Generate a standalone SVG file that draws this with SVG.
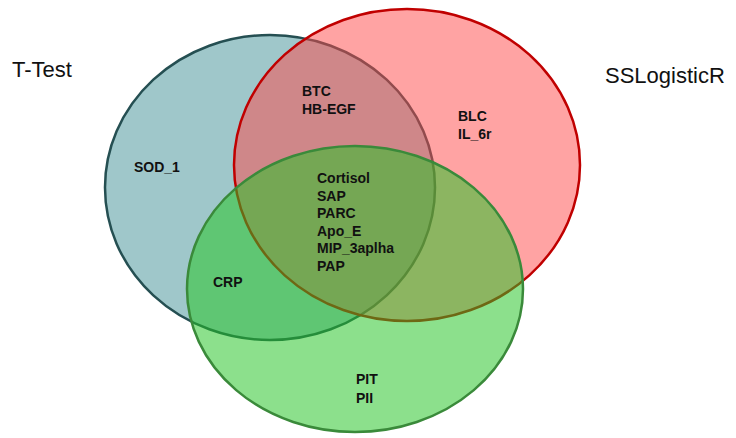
<svg xmlns="http://www.w3.org/2000/svg" width="736" height="438" viewBox="0 0 736 438">
<style>
.set{stroke-width:2.5}
.lbl{font-family:"Liberation Sans",Arial,sans-serif;font-weight:bold;font-size:14px;fill:#111}
.ttl{font-family:"Liberation Sans",Arial,sans-serif;font-size:22px;fill:#111}
</style>
<rect width="736" height="438" fill="#ffffff"/>
<g id="set-ttest">
<ellipse class="set" cx="270" cy="187.5" rx="165" ry="152.5" fill="#9fc7ca" stroke="#254f52"/>
</g>
<g id="set-sslogisticr">
<ellipse class="set" cx="407" cy="165" rx="173" ry="156" fill="#ff4747" fill-opacity="0.5" stroke="#c00000"/>
</g>
<g id="set-third">
<ellipse class="set" cx="355" cy="289" rx="168" ry="143" fill="#26c526" fill-opacity="0.53" stroke="#3a8a3a"/>
</g>
<g id="connectors"></g>
<g id="title-ttest"><text class="ttl" x="12" y="77">T-Test</text></g>
<g id="title-sslogisticr"><text class="ttl" x="605" y="83">SSLogisticR</text></g>
<g id="region-ttest-only"><text class="lbl" x="134" y="172">SOD_1</text></g>
<g id="region-ttest-ss"><text class="lbl" x="302" y="96">BTC</text><text class="lbl" x="302" y="113.5">HB-EGF</text></g>
<g id="region-ss-only"><text class="lbl" x="458" y="121">BLC</text><text class="lbl" x="458" y="139">IL_6r</text></g>
<g id="region-all">
<text class="lbl" x="317" y="183">Cortisol</text>
<text class="lbl" x="317" y="200.5">SAP</text>
<text class="lbl" x="317" y="218">PARC</text>
<text class="lbl" x="317" y="235.5">Apo_E</text>
<text class="lbl" x="317" y="253">MIP_3aplha</text>
<text class="lbl" x="317" y="270.5">PAP</text>
</g>
<g id="region-ttest-third"><text class="lbl" x="213" y="287">CRP</text></g>
<g id="region-third-only"><text class="lbl" x="356" y="384">PIT</text><text class="lbl" x="356" y="403">PII</text></g>
</svg>
